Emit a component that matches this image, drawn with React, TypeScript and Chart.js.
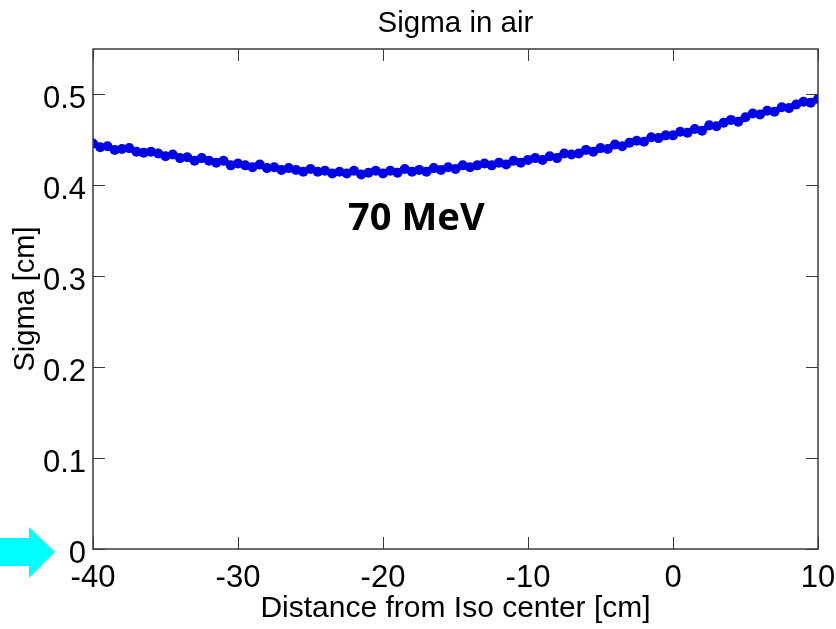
import React, { useEffect, useRef } from "react";
import { Chart, registerables } from "chart.js";

Chart.register(...registerables);

const chartTitle = "Sigma in air";
const xAxisTitle = "Distance from Iso center [cm]";
const yAxisTitle = "Sigma [cm]";
const annotationText = "70 MeV";

const xTickValues = [-40, -30, -20, -10, 0, 10];
const yTickValues = [0, 0.1, 0.2, 0.3, 0.4, 0.5];

const distances = [
  -40, -39.5, -39, -38.5, -38, -37.5, -37, -36.5, -36, -35.5,
  -35, -34.5, -34, -33.5, -33, -32.5, -32, -31.5, -31, -30.5,
  -30, -29.5, -29, -28.5, -28, -27.5, -27, -26.5, -26, -25.5,
  -25, -24.5, -24, -23.5, -23, -22.5, -22, -21.5, -21, -20.5,
  -20, -19.5, -19, -18.5, -18, -17.5, -17, -16.5, -16, -15.5,
  -15, -14.5, -14, -13.5, -13, -12.5, -12, -11.5, -11, -10.5,
  -10, -9.5, -9, -8.5, -8, -7.5, -7, -6.5, -6, -5.5,
  -5, -4.5, -4, -3.5, -3, -2.5, -2, -1.5, -1, -0.5,
  0, 0.5, 1, 1.5, 2, 2.5, 3, 3.5, 4, 4.5,
  5, 5.5, 6, 6.5, 7, 7.5, 8, 8.5, 9, 9.5,
  10,
];

const sigmas = [
  0.446, 0.442, 0.443, 0.439, 0.44, 0.441, 0.437, 0.436, 0.437, 0.435,
  0.432, 0.434, 0.43, 0.431, 0.427, 0.43, 0.427, 0.425, 0.427, 0.422,
  0.424, 0.422, 0.42, 0.423, 0.419, 0.42, 0.417, 0.419, 0.417, 0.415,
  0.418, 0.415, 0.416, 0.413, 0.415, 0.413, 0.416, 0.412, 0.414, 0.416,
  0.413, 0.416, 0.414, 0.418, 0.415, 0.417, 0.415, 0.419, 0.417, 0.42,
  0.418, 0.422, 0.42, 0.422, 0.424, 0.422, 0.425, 0.423, 0.427, 0.425,
  0.428, 0.43, 0.428, 0.432, 0.43, 0.435, 0.434, 0.435, 0.439, 0.437,
  0.441, 0.44, 0.445, 0.443, 0.447, 0.449, 0.448, 0.453, 0.452, 0.455,
  0.455, 0.459, 0.458, 0.462, 0.46, 0.466, 0.465, 0.469, 0.472, 0.47,
  0.475, 0.479, 0.478, 0.482, 0.481, 0.486, 0.485, 0.489, 0.492, 0.491,
  0.495,
];

const framePlugin = {
  id: "framePlugin",
  afterDraw(chart: any) {
    const { ctx, chartArea } = chart;
    const xs = chart.scales.x;
    const ys = chart.scales.y;
    const { left, right, top, bottom } = chartArea;
    ctx.save();
    ctx.strokeStyle = "#3a3a3a";
    ctx.lineWidth = 1.5;
    ctx.strokeRect(left, top, right - left, bottom - top);
    ctx.lineWidth = 1;
    const tl = 12;
    ctx.beginPath();
    for (const v of xTickValues) {
      const px = Math.round(xs.getPixelForValue(v)) + 0.5;
      ctx.moveTo(px, bottom);
      ctx.lineTo(px, bottom - tl);
      ctx.moveTo(px, top);
      ctx.lineTo(px, top + tl);
    }
    for (const v of yTickValues) {
      const py = Math.round(ys.getPixelForValue(v)) + 0.5;
      ctx.moveTo(left, py);
      ctx.lineTo(left + tl, py);
      ctx.moveTo(right, py);
      ctx.lineTo(right - tl, py);
    }
    ctx.stroke();

    // annotation text
    ctx.fillStyle = "#000000";
    ctx.font = "bold 38px 'Noto Sans', 'Open Sans', sans-serif";
    ctx.textAlign = "center";
    ctx.textBaseline = "middle";
    ctx.fillText(annotationText, xs.getPixelForValue(-17.7), ys.getPixelForValue(0.363));

    // cyan arrow pointing at zero
    ctx.fillStyle = "#00ffff";
    ctx.beginPath();
    ctx.moveTo(0, 538);
    ctx.lineTo(29, 538);
    ctx.lineTo(29, 527);
    ctx.lineTo(55, 552);
    ctx.lineTo(29, 578);
    ctx.lineTo(29, 566);
    ctx.lineTo(0, 566);
    ctx.closePath();
    ctx.fill();
    ctx.restore();
  },
};

export default function App() {
  const canvasRef = useRef<HTMLCanvasElement | null>(null);

  useEffect(() => {
    if (!canvasRef.current) return;
    const font = "'Liberation Sans', Arial, Helvetica, sans-serif";
    const chart = new Chart(canvasRef.current, {
      type: "scatter",
      data: {
        datasets: [
          {
            label: "Sigma",
            data: distances.map((d, i) => ({ x: d, y: sigmas[i] })),
            showLine: true,
            borderColor: "#0000e6",
            borderWidth: 6,
            backgroundColor: "#0000e6",
            pointRadius: 5,
            pointBorderWidth: 0,
            pointBackgroundColor: "#0000e6",
          },
        ],
      },
      options: {
        animation: false,
        responsive: false,
        devicePixelRatio: 1,
        layout: { padding: { left: 0, right: 18, top: 0, bottom: 0 } },
        plugins: {
          legend: { display: false },
          tooltip: { enabled: false },
          title: {
            display: true,
            fullSize: false,
            text: chartTitle,
            color: "#000000",
            font: { family: font, size: 29.5, weight: "normal" },
            padding: { top: 6, bottom: 7.6 },
          },
        },
        scales: {
          x: {
            type: "linear",
            min: -40,
            max: 10,
            grid: { display: false, drawTicks: false },
            border: { display: false },
            afterBuildTicks: (scale: any) => {
              scale.ticks = xTickValues.map((v) => ({ value: v }));
            },
            afterFit: (scale: any) => {
              scale.height = 80;
              scale.paddingLeft = 0;
              scale.paddingRight = 0;
            },
            ticks: {
              color: "#000000",
              font: { family: font, size: 31 },
              padding: 11,
              maxRotation: 0,
              callback: (v: any) => String(v),
            },
            title: {
              display: true,
              text: xAxisTitle,
              color: "#000000",
              font: { family: font, size: 30 },
              padding: { top: 0, bottom: 2 },
            },
          },
          y: {
            type: "linear",
            min: 0,
            max: 0.55,
            grid: { display: false, drawTicks: false },
            border: { display: false },
            afterBuildTicks: (scale: any) => {
              scale.ticks = yTickValues.map((v) => ({ value: v }));
            },
            afterFit: (scale: any) => {
              scale.width = 93;
              scale.paddingTop = 0;
              scale.paddingBottom = 0;
            },
            ticks: {
              color: "#000000",
              font: { family: font, size: 31 },
              padding: 7,
              labelOffset: 5,
              callback: (v: any) => (v === 0 ? "0" : Number(v).toFixed(1)),
            },
            title: {
              display: true,
              text: yAxisTitle,
              color: "#000000",
              font: { family: font, size: 29 },
              padding: { top: 9, bottom: 0 },
            },
          },
        },
      },
      plugins: [framePlugin],
    });
    return () => chart.destroy();
  }, []);

  return (
    <div style={{ position: "fixed", left: 0, top: 0, width: 836, height: 629, background: "#ffffff" }}>
      <canvas ref={canvasRef} width={836} height={629} style={{ display: "block" }} />
    </div>
  );
}
